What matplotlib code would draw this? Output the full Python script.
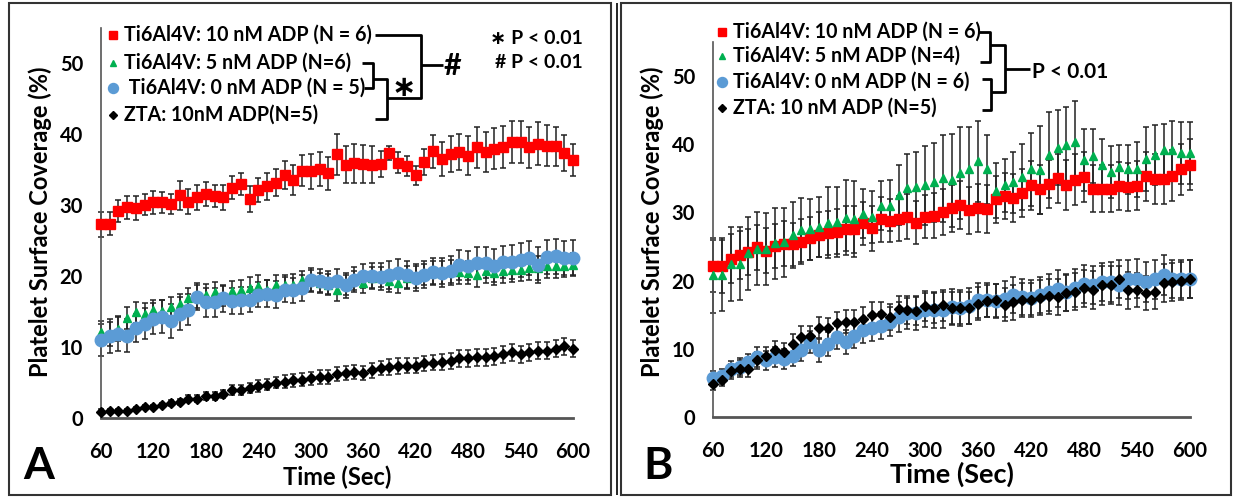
import matplotlib
matplotlib.use('Agg')
import matplotlib.pyplot as plt
from matplotlib.lines import Line2D
from matplotlib.patches import Rectangle

W, H = 1235, 498
plt.rcParams['font.family'] = ['Lato', 'DejaVu Sans']
plt.rcParams['font.weight'] = 'bold'

time_sec = list(range(60, 610, 10))

# ---- panel A values ----
a_ti10 = [27.3, 27.4, 29.2, 29.7, 29.6, 30.1, 30.4, 30.4, 30.2, 31.4,
          30.5, 31.1, 31.6, 31.3, 31.1, 32.5, 33.0, 30.9, 32.2, 32.7,
          33.2, 34.3, 33.6, 34.9, 34.8, 35.1, 34.5, 37.2, 35.7, 35.9,
          35.8, 35.7, 35.8, 37.4, 36.0, 35.5, 34.2, 36.1, 37.6, 36.5,
          37.2, 37.5, 37.0, 38.2, 37.5, 38.0, 38.2, 38.9, 38.9, 38.2,
          38.7, 38.4, 38.3, 37.4, 36.4]
a_ti10_err = [1.8, 1.6, 1.5, 1.6, 1.7, 1.5, 1.6, 1.5, 1.4, 2.0,
              1.8, 1.7, 1.7, 1.6, 1.7, 1.6, 1.6, 1.8, 1.7, 1.9,
              1.9, 2.0, 2.1, 2.2, 2.5, 2.4, 2.3, 2.9, 2.6, 2.7,
              2.7, 2.6, 1.8, 1.0, 1.5, 1.4, 1.3, 1.9, 2.3, 2.4,
              2.5, 2.5, 2.7, 2.9, 2.8, 2.9, 3.0, 3.0, 3.0, 2.9,
              3.0, 2.9, 2.7, 2.5, 2.3]
a_ti5 = [12.1, 11.9, 12.6, 14.1, 14.9, 14.7, 15.3, 15.1, 15.6, 16.1,
         16.9, 17.1, 17.4, 17.7, 17.2, 17.9, 18.1, 18.4, 18.6, 18.1,
         18.7, 18.8, 18.8, 19.4, 19.4, 19.1, 18.8, 18.0, 18.8, 19.4,
         19.1, 19.8, 19.9, 19.3, 19.1, 19.8, 19.9, 20.2, 20.5, 20.5,
         20.7, 20.6, 20.5, 20.2, 20.7, 20.5, 20.7, 20.9, 20.9, 21.1,
         21.2, 21.4, 21.4, 21.5, 21.6]
a_ti5_err = [1.6, 1.7, 1.8, 1.6, 1.5, 1.5, 1.4, 1.5, 1.5, 1.4,
             1.5, 1.6, 1.5, 1.5, 1.4, 1.4, 1.4, 1.5, 1.5, 1.4,
             1.4, 1.4, 1.5, 1.4, 1.5, 1.4, 1.5, 1.5, 1.4, 1.4,
             1.5, 1.5, 1.4, 1.5, 1.5, 1.6, 1.6, 1.5, 1.6, 1.6,
             1.6, 1.7, 1.6, 1.7, 1.6, 1.7, 1.7, 1.7, 1.6, 1.7,
             1.7, 1.6, 1.7, 1.6, 1.6]
a_ti0 = [11.0, 11.6, 11.9, 11.6, 12.7, 13.3, 14.0, 14.3, 13.7, 14.7,
         15.3, 17.1, 16.3, 16.3, 16.9, 16.5, 16.6, 16.7, 17.4, 17.5,
         17.4, 18.1, 18.0, 18.3, 19.4, 19.3, 19.1, 19.3, 18.7, 19.5,
         20.0, 20.0, 19.9, 20.2, 20.5, 20.2, 19.8, 20.2, 20.6, 20.5,
         20.8, 21.6, 21.5, 21.9, 21.9, 21.5, 22.0, 22.0, 22.3, 22.6,
         21.6, 22.7, 22.8, 22.5, 22.6]
a_ti0_err = [2.3, 2.4, 2.4, 2.3, 2.0, 2.2, 2.2, 2.3, 2.4, 2.3,
             2.2, 1.9, 2.0, 2.0, 1.9, 1.9, 1.9, 1.8, 1.8, 1.9,
             1.9, 1.8, 1.8, 1.8, 1.7, 1.7, 1.6, 1.7, 1.8, 1.8,
             1.7, 1.8, 1.9, 2.0, 1.9, 1.9, 1.9, 1.9, 1.9, 2.0,
             2.0, 2.1, 2.1, 2.2, 2.2, 2.3, 2.3, 2.4, 2.4, 2.4,
             2.5, 2.4, 2.5, 2.4, 2.5]
a_zta = [0.9, 1.0, 1.0, 1.0, 1.3, 1.5, 1.6, 1.8, 2.1, 2.3,
         2.7, 2.7, 3.1, 3.1, 3.4, 3.9, 4.0, 4.2, 4.5, 4.7,
         5.0, 5.1, 5.3, 5.4, 5.6, 5.8, 5.8, 6.2, 6.3, 6.5,
         6.4, 6.7, 7.0, 7.2, 7.3, 7.4, 7.4, 7.7, 7.8, 7.9,
         8.0, 8.4, 8.4, 8.6, 8.6, 8.7, 9.0, 9.3, 9.0, 9.3,
         9.5, 9.5, 9.8, 10.1, 9.8]
a_zta_err = [0.3, 0.3, 0.3, 0.3, 0.3, 0.3, 0.3, 0.3, 0.4, 0.4,
             0.5, 0.5, 0.6, 0.6, 0.6, 0.7, 0.7, 0.7, 0.8, 0.8,
             0.8, 0.9, 0.9, 0.9, 0.9, 1.0, 1.0, 1.0, 1.0, 1.0,
             1.0, 1.0, 1.0, 1.1, 1.1, 1.1, 1.1, 1.1, 1.1, 1.1,
             1.1, 1.2, 1.2, 1.2, 1.2, 1.2, 1.2, 1.2, 1.2, 1.2,
             1.2, 1.2, 1.2, 1.2, 1.2]

# ---- panel B values ----
b_ti10 = [22.1, 22.2, 23.2, 23.8, 24.2, 24.9, 24.4, 25.1, 25.4, 25.3,
          25.7, 26.2, 26.7, 27.0, 27.2, 27.6, 27.5, 28.4, 27.7, 29.0,
          28.8, 29.1, 29.4, 28.5, 29.4, 29.5, 30.1, 30.6, 31.1, 30.3,
          30.6, 30.5, 31.9, 32.4, 32.1, 32.9, 34.0, 33.4, 34.2, 35.0,
          34.0, 34.8, 35.2, 33.5, 33.5, 33.5, 33.9, 33.7, 33.9, 35.3,
          34.9, 34.9, 35.4, 36.3, 37.0]
b_ti10_err = [3.8, 4.0, 3.6, 3.5, 3.4, 3.3, 3.3, 3.2, 3.3, 3.2,
              3.3, 3.2, 3.3, 3.2, 3.3, 3.3, 3.4, 3.2, 3.3, 3.3,
              3.2, 3.3, 3.3, 3.2, 3.2, 3.3, 3.4, 3.4, 3.5, 3.4,
              3.5, 3.5, 3.4, 3.4, 3.5, 3.5, 3.6, 3.6, 3.5, 3.6,
              3.7, 3.7, 3.6, 3.5, 3.5, 3.5, 3.5, 3.5, 3.6, 3.6,
              3.6, 3.6, 3.7, 3.7, 3.7]
b_ti5 = [20.8, 20.8, 22.4, 22.5, 24.0, 24.7, 24.6, 25.5, 25.6, 26.7,
         27.4, 27.5, 27.8, 28.5, 28.6, 29.2, 29.0, 29.8, 29.3, 31.0,
         31.0, 32.6, 33.6, 33.7, 34.0, 34.4, 35.0, 34.7, 35.8, 36.4,
         37.5, 36.3, 33.2, 34.0, 34.4, 35.2, 36.3, 36.2, 38.4, 39.5,
         39.9, 40.3, 37.7, 38.3, 36.9, 35.9, 36.6, 36.3, 36.3, 37.9,
         38.4, 39.2, 39.1, 38.7, 38.7]
b_ti5_err = [5.5, 5.2, 5.4, 5.4, 5.3, 5.3, 5.3, 5.2, 5.1, 4.9,
             4.7, 4.5, 4.4, 5.2, 5.1, 5.5, 5.6, 3.6, 3.8, 3.6,
             3.7, 4.4, 5.0, 5.2, 5.8, 5.8, 6.4, 6.8, 6.8, 6.2,
             5.9, 5.0, 4.0, 3.9, 4.5, 4.9, 5.3, 6.5, 6.3, 5.5,
             5.6, 6.1, 4.6, 4.0, 3.9, 3.8, 3.3, 3.6, 4.1, 4.7,
             4.4, 3.8, 4.3, 4.5, 4.5]
b_ti0 = [5.7, 6.0, 7.0, 7.4, 8.0, 8.8, 8.3, 8.8, 8.5, 9.0,
         9.8, 11.0, 9.8, 10.7, 11.7, 11.0, 11.9, 12.7, 13.0, 13.4,
         14.0, 14.7, 15.2, 15.2, 15.7, 15.7, 15.7, 16.1, 16.0, 16.3,
         17.1, 17.1, 17.0, 17.3, 17.9, 17.6, 17.5, 17.9, 18.3, 18.8,
         18.3, 18.9, 19.5, 19.4, 19.8, 19.8, 19.3, 20.2, 20.3, 19.8,
         20.2, 20.8, 20.3, 20.2, 20.2]
b_ti0_err = [1.0, 1.1, 1.2, 1.2, 1.3, 1.4, 1.4, 1.5, 1.5, 1.5,
             1.6, 1.6, 1.7, 1.7, 1.7, 1.7, 1.8, 1.8, 1.9, 2.0,
             2.1, 2.2, 2.3, 2.4, 2.5, 2.6, 2.6, 2.6, 2.6, 2.6,
             2.6, 2.5, 2.5, 2.6, 2.6, 2.6, 2.6, 2.7, 2.7, 2.7,
             2.7, 2.8, 2.8, 2.8, 2.8, 2.9, 2.9, 2.9, 2.9, 2.9,
             2.9, 2.9, 2.8, 2.8, 2.8]
b_zta = [4.9, 5.5, 6.7, 7.1, 7.1, 8.3, 9.0, 9.8, 9.5, 10.7,
         11.8, 11.9, 13.1, 13.0, 13.8, 14.0, 14.0, 14.4, 15.0, 15.1,
         14.7, 15.8, 15.7, 15.6, 16.3, 16.0, 16.4, 16.0, 16.0, 16.0,
         16.6, 17.0, 17.1, 16.5, 16.8, 17.1, 17.1, 17.5, 17.7, 17.6,
         18.2, 18.4, 18.9, 18.6, 19.3, 19.4, 20.3, 18.6, 18.6, 18.2,
         18.3, 19.7, 19.8, 20.0, 20.2]
b_zta_err = [1.0, 1.0, 1.1, 1.2, 1.2, 1.3, 1.3, 1.4, 1.4, 1.5,
             1.5, 1.5, 1.5, 1.5, 1.6, 1.7, 1.7, 1.7, 1.8, 1.8,
             1.9, 2.0, 2.0, 2.1, 2.2, 2.2, 2.3, 2.3, 2.3, 2.4,
             2.4, 2.4, 2.4, 2.4, 2.5, 2.5, 2.5, 2.6, 2.6, 2.6,
             2.7, 2.7, 2.7, 2.8, 2.8, 2.8, 2.8, 2.7, 2.5, 2.5,
             2.5, 2.8, 2.8, 2.8, 2.8]

labels_a = ['Ti6Al4V: 10 nM ADP (N = 6)', 'Ti6Al4V: 5 nM ADP (N=6)',
            ' Ti6Al4V: 0 nM ADP (N = 5)', 'ZTA: 10nM ADP(N=5)']
labels_b = ['Ti6Al4V: 10 nM ADP (N = 6)', 'Ti6Al4V: 5 nM ADP (N=4)',
            'Ti6Al4V: 0 nM ADP (N = 6)', 'ZTA: 10 nM ADP (N=5)']
x_ticks = [60, 120, 180, 240, 300, 360, 420, 480, 540, 600]
y_ticks = [0, 10, 20, 30, 40, 50]

style = [{'color': '#ff0000', 'marker': 's', 'ms': 7.5},
         {'color': '#00b050', 'marker': '^', 'ms': 6},
         {'color': '#5b9bd5', 'marker': 'o', 'ms': 9},
         {'color': 'black', 'marker': 'D', 'ms': 4.8}]

fig = plt.figure(figsize=(W / 100, H / 100), dpi=100)


def fx(x):
    return x / W


def fy(y):
    return 1 - y / H


def line(xs, ys, lw=2.0):
    fig.add_artist(Line2D([fx(x) for x in xs], [fy(y) for y in ys],
                          color='black', lw=lw, solid_capstyle='butt'))


def panel(box, series, errs, xlabel_size, ylab_x, ylab_y, xlab_y):
    left, top, right, bottom = box
    ax = fig.add_axes([fx(left), fy(bottom), (right - left) / W, (bottom - top) / H])
    for y, e in zip(series, errs):
        ax.errorbar(time_sec, y, yerr=e, fmt='none', ecolor='#222222',
                    elinewidth=1.1, capsize=2, capthick=1.1, zorder=2, clip_on=False)
    for i, y in enumerate(series):
        st = style[i]
        ax.plot(time_sec, y, linestyle='none', marker=st['marker'], ms=st['ms'],
                color=st['color'], mec=st['color'], zorder=3 + i, clip_on=False)
    ax.set_xlim(60, 600)
    ax.set_ylim(0, 55)
    ax.set_xticks(x_ticks)
    ax.set_yticks(y_ticks)
    ax.tick_params(length=0, labelsize=14.5)
    ax.tick_params(axis='x', pad=17)
    ax.tick_params(axis='y', pad=13)
    for s in ['top', 'right']:
        ax.spines[s].set_visible(False)
    ax.spines['left'].set_color('#555555')
    ax.spines['left'].set_linewidth(1.2)
    ax.spines['bottom'].set_color('#555555')
    ax.spines['bottom'].set_linewidth(2)
    ax.set_xlabel('Time (Sec)', fontsize=xlabel_size, fontweight='bold')
    ax.set_ylabel('Platelet Surface Coverage (%)', fontsize=17, fontweight='bold')
    ax.yaxis.set_label_coords((ylab_x - left) / (right - left), (bottom - ylab_y) / (bottom - top))
    ax.xaxis.set_label_coords(0.5, (bottom - xlab_y) / (bottom - top))
    ax.patch.set_alpha(0)
    return ax


axA = panel((101, 28, 573, 418), [a_ti10, a_ti5, a_ti0, a_zta],
            [a_ti10_err, a_ti5_err, a_ti0_err, a_zta_err], 17, 52, 222, 466)
axB = panel((713, 42, 1190, 417), [b_ti10, b_ti5, b_ti0, b_zta],
            [b_ti10_err, b_ti5_err, b_ti0_err, b_zta_err], 19.5, 664, 222, 462)

# panel frames
for x0, x1 in [(9, 611), (621, 1231)]:
    fig.add_artist(Rectangle((fx(x0), fy(495)), (x1 - x0) / W, (495 - 3) / H,
                             fill=False, ec='#333333', lw=1.5))
line([617, 617], [3, 495], lw=1.2)

fig.text(fx(39), fy(466), 'A', fontsize=32, fontweight='bold', ha='center', va='center')
fig.text(fx(658), fy(466), 'B', fontsize=32, fontweight='bold', ha='center', va='center')

# legends
rows_a = [35, 63, 88, 115]
rows_b = [32, 56, 82, 108]
for rows, labels, mx, tx in [(rows_a, labels_a, 113, 124), (rows_b, labels_b, 722, 733)]:
    for i, (ry, lab) in enumerate(zip(rows, labels)):
        st = style[i]
        fig.add_artist(Line2D([fx(mx)], [fy(ry)], marker=st['marker'], ms=st['ms'] * 0.8,
                              color=st['color'], linestyle='none'))
        fig.text(fx(tx), fy(ry), lab, fontsize=14.1, fontweight='bold', ha='left', va='center')

# panel A brackets
line([375, 421, 421, 387], [35, 35, 98, 98])
line([421, 443], [65, 65])
fig.text(fx(452), fy(66), '#', fontsize=22, fontweight='bold', ha='center', va='center')
line([362, 373, 373, 364], [63, 63, 88, 88])
line([373, 387, 387, 375], [79, 79, 119, 119])
fig.text(fx(404), fy(88), '∗', fontsize=21, fontweight='bold', ha='center', va='center',
         family=['DejaVu Sans'])
fig.text(fx(583), fy(38), '∗ P < 0.01', fontsize=14, fontweight='bold', ha='right', va='center')
fig.text(fx(583), fy(63), '# P < 0.01', fontsize=14, fontweight='bold', ha='right', va='center')

# panel B brackets
line([979, 990, 990, 980], [32, 32, 62, 62])
line([990, 1005, 1005, 991], [45, 45, 92, 92])
line([982, 991, 991, 982], [79, 79, 110, 110])
line([1005, 1030], [69, 69])
fig.text(fx(1032), fy(72), 'P < 0.01', fontsize=15, fontweight='bold', ha='left', va='center')

fig.savefig('out.png', dpi=100)
